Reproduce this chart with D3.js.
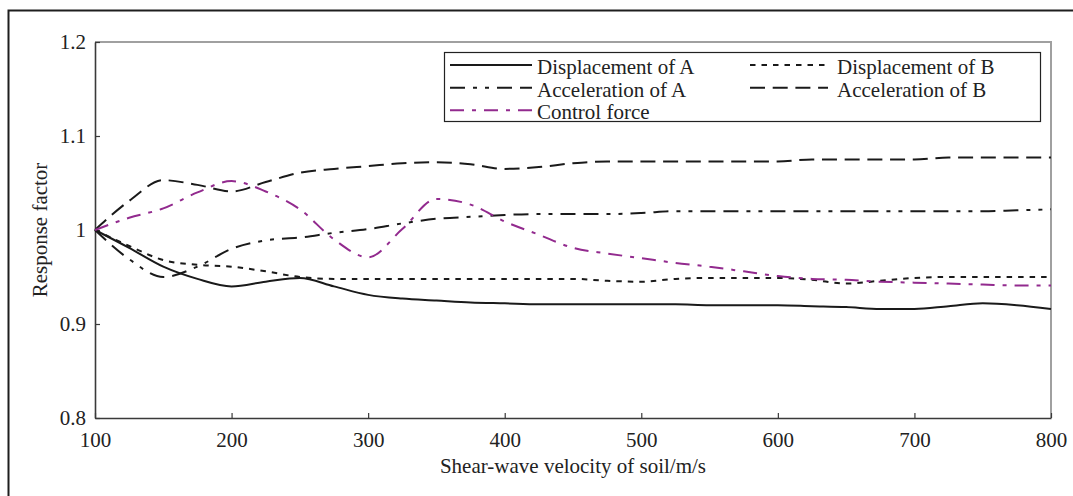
<!DOCTYPE html>
<html>
<head>
<meta charset="utf-8">
<script src="https://cdn.jsdelivr.net/npm/d3@7"></script>
<style>
  html, body { margin: 0; padding: 0; background: #fff; }
  svg { display: block; }
  text { font-family: "Liberation Serif", "Times New Roman", serif; fill: #222; }
</style>
</head>
<body>
<svg id="chart" width="1073" height="496"></svg>
<script>
// Shear-wave velocity of soil (m/s)
const velocity = [100,125,150,175,200,225,250,275,300,325,350,375,400,425,450,475,500,525,550,575,600,625,650,675,700,725,750,775,800];

// Response factors per series
const displacementA = [1.000,0.981,0.961,0.948,0.940,0.945,0.949,0.940,0.931,0.927,0.925,0.923,0.922,0.921,0.921,0.921,0.921,0.921,0.920,0.920,0.920,0.919,0.918,0.916,0.916,0.919,0.922,0.920,0.916];
const displacementB = [1.000,0.983,0.968,0.963,0.961,0.956,0.950,0.948,0.948,0.948,0.948,0.948,0.948,0.948,0.948,0.946,0.945,0.948,0.949,0.949,0.949,0.947,0.943,0.946,0.949,0.950,0.950,0.950,0.950];
const accelerationA = [1.000,0.969,0.950,0.961,0.980,0.989,0.992,0.997,1.001,1.007,1.012,1.014,1.016,1.017,1.017,1.017,1.018,1.020,1.020,1.020,1.020,1.020,1.020,1.020,1.020,1.020,1.020,1.021,1.022];
const accelerationB = [1.000,1.031,1.053,1.048,1.041,1.051,1.061,1.065,1.068,1.071,1.072,1.070,1.065,1.067,1.071,1.073,1.073,1.073,1.073,1.073,1.073,1.075,1.075,1.075,1.075,1.077,1.077,1.077,1.077];
const controlForce = [1.000,1.013,1.023,1.040,1.052,1.041,1.022,0.990,0.971,1.001,1.033,1.027,1.009,0.995,0.981,0.975,0.970,0.965,0.961,0.956,0.951,0.948,0.947,0.945,0.944,0.943,0.942,0.941,0.941];

const xTicks = [100,200,300,400,500,600,700,800];
const yTicks = [0.8,0.9,1.0,1.1,1.2];
const yTickLabels = ["0.8","0.9","1","1.1","1.2"];

const seriesNames = ["Displacement of A","Displacement of B","Acceleration of A","Acceleration of B","Control force"];

const svg = d3.select("#chart");

// outer frame
svg.append("rect")
  .attr("x", 8.5).attr("y", 10.5).attr("width", 1100).attr("height", 520)
  .attr("fill", "none").attr("stroke", "#1e1e1e").attr("stroke-width", 2);

const plot = { left: 95, right: 1051, top: 42, bottom: 418 };

const x = d3.scaleLinear().domain([100, 800]).range([plot.left, plot.right]);
const y = d3.scaleLinear().domain([0.8, 1.2]).range([plot.bottom, plot.top]);

// top and right box edges
svg.append("path")
  .attr("d", `M${plot.left},${plot.top}H${plot.right}V${plot.bottom}`)
  .attr("fill", "none").attr("stroke", "#a0a0a0").attr("stroke-width", 2);

// x axis (ticks point inward)
const xAxis = svg.append("g")
  .attr("transform", `translate(0,${plot.bottom})`)
  .call(d3.axisBottom(x).tickValues(xTicks).tickSizeInner(-5).tickSizeOuter(0).tickPadding(16)
    .tickFormat(d3.format("d")));
xAxis.select(".domain").attr("stroke", "#3a3a3a").attr("stroke-width", 1.6);
xAxis.selectAll(".tick line").attr("stroke", "#3a3a3a").attr("stroke-width", 1.2);
xAxis.selectAll(".tick text")
  .attr("font-size", 21).attr("font-family", "Liberation Serif").attr("fill", "#222")
  .attr("dy", null).attr("y", 29);

// y axis
const yAxis = svg.append("g")
  .attr("transform", `translate(${plot.left},0)`)
  .call(d3.axisLeft(y).tickValues(yTicks).tickSizeInner(-5).tickSizeOuter(0).tickPadding(9)
    .tickFormat((d, i) => yTickLabels[i]));
yAxis.select(".domain").attr("stroke", "#3a3a3a").attr("stroke-width", 1.6);
yAxis.selectAll(".tick line").attr("stroke", "#3a3a3a").attr("stroke-width", 1.2);
yAxis.selectAll(".tick text")
  .attr("font-size", 21).attr("font-family", "Liberation Serif").attr("fill", "#222");

// axis titles
svg.append("text")
  .attr("x", (plot.left + plot.right) / 2).attr("y", 473)
  .attr("text-anchor", "middle").attr("font-size", 21)
  .text("Shear-wave velocity of soil/m/s");

svg.append("text")
  .attr("transform", `translate(47,${(plot.top + plot.bottom) / 2}) rotate(-90)`)
  .attr("text-anchor", "middle").attr("font-size", 21)
  .text("Response factor");

// line styles
const styles = [
  { color: "#1a1a1a", dash: null, offset: 0 },
  { color: "#1a1a1a", dash: "5.5,6", offset: 0 },
  { color: "#1a1a1a", dash: "15,8,15,8,4,8,4,8", offset: 0 },
  { color: "#1a1a1a", dash: "15,7.7", offset: 0 },
  { color: "#922a8e", dash: "14,8,4,8", offset: 0 }
];
const seriesValues = [displacementA, displacementB, accelerationA, accelerationB, controlForce];

const line = d3.line()
  .x(d => x(d[0]))
  .y(d => y(d[1]))
  .curve(d3.curveMonotoneX);

// draw order: black curves first, control force on top
seriesValues.forEach((vals, i) => {
  const pts = velocity.map((v, j) => [v, vals[j]]);
  svg.append("path")
    .datum(pts)
    .attr("d", line)
    .attr("fill", "none")
    .attr("stroke", styles[i].color)
    .attr("stroke-width", 2)
    .attr("stroke-dasharray", styles[i].dash)
    .attr("stroke-dashoffset", styles[i].offset);
});

// legend
const legend = svg.append("g");
legend.append("rect")
  .attr("x", 444.5).attr("y", 52.5).attr("width", 596).attr("height", 69)
  .attr("fill", "#fff").attr("stroke", "#222").attr("stroke-width", 1.2);

const legendPos = [
  { lx: 450, tx: 537, ly: 65 },
  { lx: 750, tx: 837, ly: 65 },
  { lx: 450, tx: 537, ly: 87.7 },
  { lx: 750, tx: 837, ly: 87.7 },
  { lx: 450, tx: 537, ly: 110.3 }
];
const legendOffsets = [0, 0, 23, 0, 0];
const legendLen = [82, 78, 82, 78, 82];

seriesNames.forEach((name, i) => {
  const p = legendPos[i];
  legend.append("line")
    .attr("x1", p.lx).attr("x2", p.lx + legendLen[i])
    .attr("y1", p.ly).attr("y2", p.ly)
    .attr("stroke", styles[i].color).attr("stroke-width", 2)
    .attr("stroke-dasharray", styles[i].dash)
    .attr("stroke-dashoffset", legendOffsets[i]);
  legend.append("text")
    .attr("x", p.tx).attr("y", p.ly + 9)
    .attr("font-size", 21)
    .text(name);
});
</script>
</body>
</html>
